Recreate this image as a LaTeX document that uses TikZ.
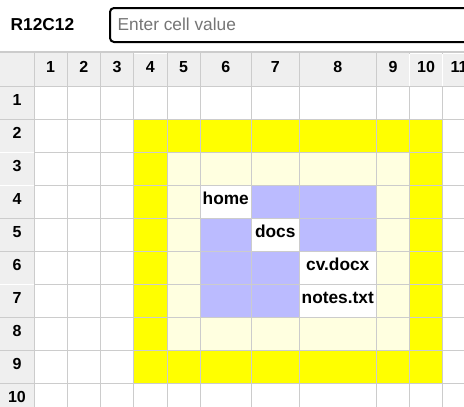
\documentclass[tikz,border=0pt]{standalone}
\usepackage{fontspec}
\setmainfont{Liberation Sans}
\definecolor{gridc}{HTML}{CCCCCC}
\definecolor{hdrbg}{HTML}{EFEFEF}
\definecolor{ylw}{HTML}{FFFF00}
\definecolor{lylw}{HTML}{FFFFE0}
\definecolor{blu}{HTML}{BBBBFF}
\definecolor{phgray}{HTML}{757575}
\tikzset{
  hdrtext/.style={anchor=base,inner sep=0pt,font=\fontsize{16}{19}\selectfont\bfseries},
  celltext/.style={anchor=base,inner sep=0pt,font=\fontsize{17.3}{20}\selectfont\bfseries},
  gridline/.style={draw=gridc,line width=1pt},
  hiline/.style={draw=white,line width=1pt},
}
\begin{document}
\begin{tikzpicture}[x=1pt,y=-1pt]
\useasboundingbox (0,0) rectangle (464,407);
\clip (0,0) rectangle (464,407);
\fill[white] (0,0) rectangle (464,407);
% top bar
\node[anchor=base west,inner sep=0pt,font=\fontsize{17.3}{20}\selectfont\bfseries] (addr) at (10.5,30.7) {R12C12};
\draw[line width=2pt,rounded corners=4pt] (110,8) rectangle (490,42);
\node[anchor=base west,inner sep=0pt,text=phgray,font=\fontsize{17.3}{20}\selectfont] (input) at (117.5,30) {Enter cell value};
% header backgrounds
\fill[hdrbg] (0,52) rectangle (464,86);
\fill[hdrbg] (0,52) rectangle (34,407);
% coloured regions
\fill[ylw] (133.5,119) rectangle (442.5,383);
\fill[lylw] (167,152) rectangle (409.5,350);
% row 4
\fill[blu] (251.5,185) rectangle (376.5,218);
% row 5
\fill[blu] (200,218) rectangle (251.5,251);
\fill[blu] (299,218) rectangle (376.5,251);
% rows 6-7
\fill[blu] (200,251) rectangle (299,317);
% white cells
\fill[white] (200,185) rectangle (251.5,218);
\fill[white] (251.5,218) rectangle (299,251);
\fill[white] (299,251) rectangle (376.5,317);
% grid
\foreach \x in {34,67,100.5,133.5,167,200,251.5,299,376.5,409.5,442.5}
  \draw[gridline] (\x,52) -- (\x,407);
\foreach \y in {86,119,152,185,218,251,284,317,350,383}
  \draw[gridline] (0,\y) -- (464,\y);
\draw[draw=gridc,line width=1.8pt] (0,52.3) -- (464,52.3);
% header highlight borders
\draw[hiline] (134,53.5) -- (166.5,53.5);
\draw[hiline] (410,53.5) -- (442,53.5);
\draw[hiline] (443,53.5) -- (464,53.5);
\draw[hiline] (409.5,54) -- (409.5,85.5);
\draw[hiline] (442.5,54) -- (442.5,85.5);
\draw[hiline] (0,152) -- (33.5,152);
\draw[hiline] (0,185) -- (33.5,185);
\draw[hiline] (0,284) -- (33.5,284);
% column headers
\foreach \i/\cx in {1/50.5,2/83.75,3/117,4/150.25,5/183.5,6/225.75,7/275.25,8/337.75,9/393,10/426,11/459}
  \node[hdrtext] (col\i) at (\cx,72.7) {\i};
% row headers
\foreach \j/\ty in {1/86,2/119,3/152,4/185,5/218,6/251,7/284,8/317,9/350,10/383}
  \node[hdrtext] (row\j) at (17,\ty+19) {\j};
% cell texts
\node[celltext] (home) at (225.75,204) {home};
\node[celltext] (docs) at (275.25,237) {docs};
\node[celltext] (cv) at (337.75,270) {cv.docx};
\node[celltext] (notes) at (337.75,303) {notes.txt};
\end{tikzpicture}
\end{document}
